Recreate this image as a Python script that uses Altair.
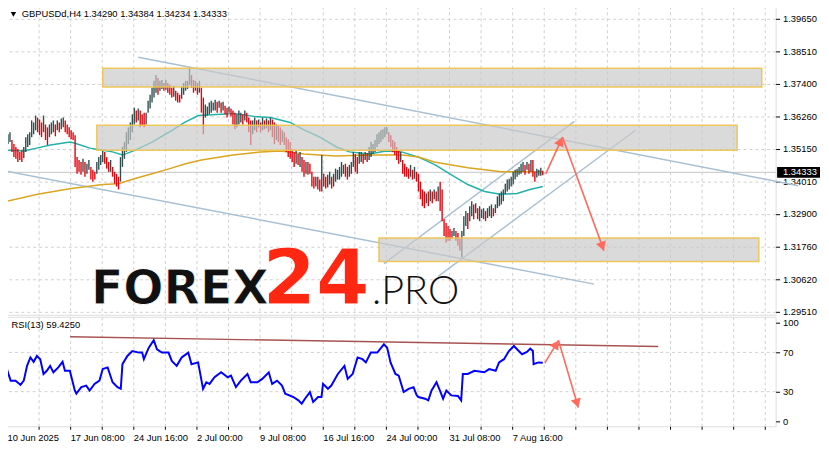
import math
import altair as alt
import pandas as pd

# ---------------- data ----------------
bar_high = [
1.3565,1.3572,1.3545,1.3531,1.3521,1.3514,1.3504,1.3510,1.3521,1.3555,
1.3565,1.3572,1.3613,1.3606,1.3630,1.3623,1.3616,1.3606,1.3630,1.3599,
1.3589,1.3599,1.3606,1.3613,1.3599,1.3613,1.3606,1.3620,1.3623,1.3613,
1.3599,1.3589,1.3579,1.3572,1.3562,1.3486,1.3476,1.3469,1.3480,1.3469,
1.3463,1.3476,1.3452,1.3442,1.3435,1.3469,1.3486,1.3493,1.3510,1.3504,
1.3486,1.3469,1.3476,1.3452,1.3435,1.3428,1.3418,1.3486,1.3521,1.3538,
1.3572,1.3589,1.3606,1.3634,1.3657,1.3647,1.3654,1.3647,1.3634,1.3640,
1.3640,1.3681,1.3702,1.3726,1.3750,1.3770,1.3760,1.3750,1.3753,1.3743,
1.3753,1.3743,1.3736,1.3726,1.3733,1.3716,1.3709,1.3702,1.3729,1.3743,
1.3750,1.3750,1.3794,1.3770,1.3753,1.3750,1.3743,1.3750,1.3726,1.3692,
1.3668,1.3661,1.3675,1.3681,1.3675,1.3685,1.3678,1.3681,1.3675,1.3678,
1.3664,1.3657,1.3661,1.3654,1.3647,1.3640,1.3634,1.3647,1.3640,1.3634,
1.3647,1.3640,1.3623,1.3613,1.3613,1.3623,1.3613,1.3616,1.3606,1.3623,
1.3613,1.3620,1.3613,1.3623,1.3616,1.3606,1.3599,1.3596,1.3589,1.3579,
1.3572,1.3555,1.3548,1.3538,1.3514,1.3504,1.3510,1.3497,1.3504,1.3486,
1.3476,1.3469,1.3469,1.3463,1.3435,1.3418,1.3418,1.3418,1.3408,1.3493,
1.3428,1.3418,1.3425,1.3435,1.3418,1.3428,1.3446,1.3442,1.3452,1.3469,
1.3459,1.3463,1.3452,1.3459,1.3469,1.3504,1.3497,1.3486,1.3504,1.3504,
1.3497,1.3504,1.3500,1.3521,1.3538,1.3531,1.3545,1.3565,1.3572,1.3579,
1.3582,1.3589,1.3589,1.3572,1.3562,1.3545,1.3538,1.3521,1.3510,1.3504,
1.3476,1.3463,1.3452,1.3446,1.3459,1.3442,1.3452,1.3435,1.3428,1.3401,
1.3374,1.3367,1.3360,1.3367,1.3374,1.3367,1.3374,1.3367,1.3384,1.3401,
1.3374,1.3271,1.3258,1.3247,1.3237,1.3230,1.3240,1.3230,1.3223,1.3203,
1.3230,1.3281,1.3299,1.3292,1.3316,1.3333,1.3322,1.3326,1.3309,1.3316,
1.3305,1.3309,1.3299,1.3309,1.3316,1.3322,1.3309,1.3322,1.3350,1.3360,
1.3367,1.3374,1.3394,1.3408,1.3411,1.3418,1.3435,1.3442,1.3446,1.3452,
1.3463,1.3469,1.3459,1.3469,1.3463,1.3476,1.3476,1.3435,1.3446,1.3442,
1.3449,1.34384]

bar_low = [
1.3531,1.3538,1.3504,1.3486,1.3480,1.3469,1.3476,1.3469,1.3483,1.3504,
1.3521,1.3528,1.3555,1.3565,1.3579,1.3572,1.3562,1.3555,1.3572,1.3545,
1.3528,1.3555,1.3565,1.3572,1.3558,1.3579,1.3572,1.3582,1.3589,1.3572,
1.3565,1.3555,1.3548,1.3545,1.3452,1.3428,1.3435,1.3425,1.3435,1.3418,
1.3428,1.3442,1.3408,1.3401,1.3408,1.3428,1.3442,1.3459,1.3469,1.3463,
1.3446,1.3435,1.3435,1.3418,1.3394,1.3384,1.3374,1.3401,1.3452,1.3480,
1.3504,1.3531,1.3545,1.3572,1.3599,1.3606,1.3613,1.3589,1.3596,1.3589,
1.3599,1.3640,1.3654,1.3675,1.3692,1.3709,1.3702,1.3716,1.3722,1.3716,
1.3719,1.3709,1.3702,1.3692,1.3695,1.3681,1.3675,1.3675,1.3688,1.3702,
1.3716,1.3722,1.3736,1.3726,1.3709,1.3716,1.3702,1.3709,1.3640,1.3565,
1.3623,1.3630,1.3634,1.3640,1.3647,1.3647,1.3640,1.3657,1.3640,1.3647,
1.3634,1.3623,1.3640,1.3627,1.3599,1.3582,1.3589,1.3599,1.3606,1.3599,
1.3613,1.3606,1.3572,1.3528,1.3565,1.3579,1.3572,1.3589,1.3572,1.3579,
1.3582,1.3586,1.3572,1.3579,1.3555,1.3531,1.3545,1.3538,1.3528,1.3538,
1.3528,1.3504,1.3486,1.3480,1.3469,1.3452,1.3463,1.3459,1.3452,1.3435,
1.3418,1.3428,1.3425,1.3428,1.3384,1.3377,1.3384,1.3374,1.3367,1.3367,
1.3384,1.3377,1.3381,1.3391,1.3377,1.3384,1.3401,1.3408,1.3408,1.3418,
1.3428,1.3418,1.3408,1.3418,1.3428,1.3452,1.3435,1.3428,1.3463,1.3469,
1.3463,1.3476,1.3469,1.3476,1.3486,1.3497,1.3504,1.3521,1.3531,1.3538,
1.3548,1.3555,1.3565,1.3538,1.3521,1.3504,1.3493,1.3476,1.3463,1.3469,
1.3428,1.3418,1.3418,1.3411,1.3418,1.3408,1.3411,1.3401,1.3367,1.3340,
1.3316,1.3309,1.3326,1.3316,1.3333,1.3326,1.3340,1.3333,1.3333,1.3299,
1.3264,1.3213,1.3189,1.3196,1.3196,1.3203,1.3213,1.3196,1.3179,1.3162,
1.3138,1.3213,1.3247,1.3237,1.3264,1.3281,1.3271,1.3292,1.3271,1.3264,
1.3275,1.3271,1.3264,1.3275,1.3281,1.3275,1.3281,1.3292,1.3309,1.3316,
1.3322,1.3333,1.3357,1.3367,1.3374,1.3384,1.3391,1.3408,1.3418,1.3425,
1.3428,1.3435,1.3425,1.3442,1.3428,1.3435,1.3418,1.3401,1.3415,1.3421,
1.3421,1.34234]

ma_fast_idx = [-0.5,8,14.5,21.5,31.5,34,41.5,48,53,58,64.5,73,81.5,89.5,96.5,108,114.5,124.5,133,143,
               149.5,158,166.5,173,183,191.5,199.5,208,216.5,224.5,233,241.5,249.5,258,264.5,271]
ma_fast_val = [1.3510,1.3507,1.3517,1.3528,1.3538,1.3534,1.3517,1.3510,1.3504,1.3493,
               1.3510,1.3538,1.3572,1.3606,1.3630,1.3634,1.3637,1.3627,1.3623,1.3606,
               1.3582,1.3555,1.3521,1.3504,1.3497,1.3507,1.3504,1.3486,1.3459,1.3425,
               1.3391,1.3367,1.3357,1.3360,1.3374,1.3384]

ma_slow_idx = [-0.5,15,32,48,56,64,73,82,90,98,114,128,138,150,166,183,200,208,216,233,250,266,271]
ma_slow_val = [1.3333,1.3357,1.3377,1.3391,1.3394,1.3411,1.3428,1.3446,1.3463,1.3476,
               1.3493,1.3504,1.3507,1.3497,1.3490,1.3493,1.3493,1.3486,1.3469,1.3449,
               1.3435,1.3435,1.3435]

rsi_idx = [-0.5,0.5,1.35,3.85,6.35,8,9.65,11.35,13,14.65,16.35,18,19.65,21.35,23,25.5,27.65,28.85,31.35,33.85,
           34.65,37.15,39.65,41.35,43.85,46.35,48,50.5,53,55.5,57.15,58,60.5,63,66.35,68,68.85,71.35,73.85,75.5,
           78,81.35,83,85.5,88,91.35,93,96.35,98.85,100.5,102.15,104.65,108,111.35,113,115.5,118,121.35,123,126.35,
           128.85,132.15,133.85,136.35,138.85,140.5,144.65,147.15,148.85,150.5,153,154.65,157.15,158.85,159.65,162.15,
           163.85,167.15,170.5,172.15,174.65,177.15,179.65,181.35,183.85,187.15,190.5,192.15,193.85,196.35,198,200.5,
           203,205.5,207.15,208,211.35,213,214.65,217.15,218.85,220.5,222.15,224.65,228,229.65,230.5,233,236.35,241.35,
           243.85,247.15,248.85,251.35,253.85,256.35,258.85,260.5,263,264.65,266,266.35,268.85,271]
rsi_val = [53.0,46.3,41.2,41.2,36.9,41.2,56.3,64.8,60.4,66.4,63.1,48.0,51.3,56.3,49.7,54.7,60.4,51.3,51.3,31.2,
           27.9,34.6,36.2,31.2,37.9,41.2,53.0,54.7,39.6,34.6,32.9,58.0,66.4,71.4,69.8,69.8,63.1,74.8,82.5,73.1,
           69.8,69.8,61.4,56.3,64.8,69.8,58.0,59.8,32.9,39.6,37.9,44.7,49.7,44.7,46.3,34.6,41.2,48.0,39.6,39.6,
           43.0,49.7,37.9,41.2,36.2,27.9,24.5,21.1,17.8,22.8,29.6,19.5,24.5,24.5,37.9,32.9,36.2,48.0,56.3,43.0,
           48.0,64.8,63.1,59.8,69.8,69.8,78.2,74.8,59.8,48.0,46.3,29.6,32.9,34.6,26.2,24.5,22.8,21.1,31.2,39.6,
           31.2,22.8,31.2,26.2,25.6,21.1,48.0,48.0,51.3,49.7,53.0,51.3,59.8,63.1,71.4,76.5,71.4,68.1,70.4,73.8,
           71.4,58.0,59.8,59.4]

price_ticks = [1.39650, 1.38510, 1.37400, 1.36260, 1.35150, 1.34010, 1.32900, 1.31760, 1.30620, 1.29510]
rsi_ticks = [0, 30, 70, 100]
rsi_levels = [30, 70]
time_labels = ["10 Jun 2025", "17 Jun 08:00", "24 Jun 16:00", "2 Jul 00:00", "9 Jul 08:00",
               "16 Jul 16:00", "24 Jul 00:00", "31 Jul 08:00", "7 Aug 16:00"]

last_price = 1.34333
title_text = "GBPUSDd,H4  1.34290 1.34384 1.34234 1.34333"
rsi_text = "RSI(13) 59.4250"

zone_x0 = [48, 45, 188]
zone_x1 = [382, 369.5, 380.5]
zone_top = [1.3794, 1.3596, 1.3206]
zone_bot = [1.3729, 1.3510, 1.3124]

chan_x0 = [66, -0.5, 190.5, 218]
chan_p0 = [1.3832, 1.3437, 1.3117, 1.3073]
chan_x1 = [400.5, 297, 287, 318]
chan_p1 = [1.3387, 1.3046, 1.3610, 1.3579]

arrow_main = [(272.5, 1.3428, 281, 1.3555), (281, 1.3555, 302, 1.3162)]
arrow_rsi = [(272, 59.1, 279, 82.2), (279, 82.2, 289, 13.8)]
rsi_trend = [(31.5, 85.9), (329.5, 76.0)]

# ---------------- layout ----------------
W = 779
MAIN_H = 313
RSI_H = 111
X_DOM = [-0.5, 389.0]
P_DOM = [1.29397, 1.40094]
R_DOM = [-5.3, 106.3]
PX_PER_BAR = W / (X_DOM[1] - X_DOM[0])
px_per_price = MAIN_H / (P_DOM[1] - P_DOM[0])
px_per_rsi = RSI_H / (R_DOM[1] - R_DOM[0])

FONT = "Liberation Sans"
FS = 9.5
GRID = "#cfcfcf"
UP = "#2f4f4f"
DOWN = "#e8000b"
ARROW = "#ff6a5c"
CHAN = "#a9c0d2"

n = len(bar_high)
dirs = []
for k in range(n):
    mid = (bar_high[k] + bar_low[k]) / 2
    prev = (bar_high[k - 1] + bar_low[k - 1]) / 2 if k else mid
    dirs.append("down" if mid < prev else "up")
bars = pd.DataFrame({"i": list(range(n)), "high": bar_high, "low": bar_low, "dir": dirs})
bars_up = bars[bars["dir"] == "up"]
bars_down = bars[bars["dir"] == "down"]

fast_df = pd.DataFrame({"i": ma_fast_idx, "v": ma_fast_val})
slow_df = pd.DataFrame({"i": ma_slow_idx, "v": ma_slow_val})
rsi_df = pd.DataFrame({"i": rsi_idx, "v": rsi_val})
zones = pd.DataFrame({"x0": zone_x0, "x1": zone_x1, "top": zone_top, "bot": zone_bot})

chan_rows = []
for k in range(len(chan_x0)):
    chan_rows.append({"id": k, "i": chan_x0[k], "v": chan_p0[k]})
    chan_rows.append({"id": k, "i": chan_x1[k], "v": chan_p1[k]})
chan_df = pd.DataFrame(chan_rows)


def seg_df(segs):
    rows = []
    for k, (x0, v0, x1, v1) in enumerate(segs):
        rows.append({"id": k, "i": x0, "v": v0})
        rows.append({"id": k, "i": x1, "v": v1})
    return pd.DataFrame(rows)


def head_df(segs, ppu):
    rows = []
    for (x0, v0, x1, v1) in segs:
        dx = (x1 - x0) * PX_PER_BAR
        dy = -(v1 - v0) * ppu
        L = math.hypot(dx, dy)
        ang = math.degrees(math.atan2(dx, -dy)) % 360
        back = 4.5
        rows.append({"i": x1 - dx / L * back / PX_PER_BAR,
                     "v": v1 + dy / L * back / ppu, "ang": ang})
    return pd.DataFrame(rows)


xscale = alt.Scale(domain=X_DOM, nice=False, zero=False)
pscale = alt.Scale(domain=P_DOM, nice=False, zero=False)
rscale = alt.Scale(domain=R_DOM, nice=False, zero=False)

grid_vals = [16 * k - 0.5 for k in range(25)]
lab_arr = []
for t in time_labels:
    lab_arr += [t, ""]
lab_arr += [""] * (30 - len(lab_arr))
lab_expr = "[" + ",".join("'%s'" % s for s in lab_arr) + "][round((datum.value+0.5)/16)]"

x_axis_main = alt.Axis(values=grid_vals, grid=True, gridDash=[3, 3], gridColor=GRID,
                       labels=False, ticks=False, domain=False, title=None)
y_axis_main = alt.Axis(orient="right", values=price_ticks, format=".5f", grid=True,
                       gridDash=[3, 3], gridColor=GRID, domain=False, tickSize=4,
                       tickColor="black", labelFont=FONT, labelFontSize=FS, labelColor="black",
                       labelPadding=3, labelOverlap=False, title=None)
x_axis_rsi = alt.Axis(values=grid_vals, grid=True, gridDash=[3, 3], gridColor=GRID,
                      labelExpr=lab_expr, labelAlign="left", labelFlush=False, labelOverlap=False,
                      labelFont=FONT, labelFontSize=FS, labelColor="black", labelPadding=3,
                      tickSize=3, tickColor="black", domain=False, title=None)
y_axis_rsi = alt.Axis(orient="right", values=rsi_ticks, grid=False, domain=False, tickSize=4,
                      tickColor="black", labelFont=FONT, labelFontSize=FS, labelColor="black",
                      labelPadding=3, labelOverlap=False, title=None)


def X(f):
    return alt.X(f, type="quantitative", scale=xscale, axis=x_axis_main)


def Y(f):
    return alt.Y(f, type="quantitative", scale=pscale, axis=y_axis_main)


def XR(f):
    return alt.X(f, type="quantitative", scale=xscale, axis=x_axis_rsi)


def YR(f):
    return alt.Y(f, type="quantitative", scale=rscale, axis=y_axis_rsi)


# ---------------- main panel ----------------
up_layer = alt.Chart(bars_up).mark_rule(strokeWidth=1.4, color=UP).encode(x=X("i"), y=Y("high"), y2="low")
down_layer = alt.Chart(bars_down).mark_rule(strokeWidth=1.4, color=DOWN).encode(x=X("i"), y=Y("high"), y2="low")
bid_layer = alt.Chart(pd.DataFrame({"v": [last_price]})).mark_rule(color="#c4c4c4", strokeWidth=1).encode(y=Y("v"))
chan_layer = alt.Chart(chan_df).mark_line(color=CHAN, strokeWidth=1.5).encode(
    x=X("i"), y=Y("v"), detail="id:N")
fast_layer = alt.Chart(fast_df).mark_line(strokeWidth=1.5, color="#20b2aa").encode(x=X("i"), y=Y("v"))
slow_layer = alt.Chart(slow_df).mark_line(strokeWidth=1.5, color="#daa520").encode(x=X("i"), y=Y("v"))
zone_layer = alt.Chart(zones).mark_rect(fill="#c8c8c8", fillOpacity=0.68, stroke="#f0c24a",
                                        strokeWidth=1.5, strokeOpacity=0.9).encode(
    x=X("x0"), x2="x1", y=Y("top"), y2="bot")
arrow_layer = alt.Chart(seg_df(arrow_main)).mark_line(color=ARROW, strokeWidth=1.6).encode(
    x=X("i"), y=Y("v"), detail="id:N")
head_layer = alt.Chart(head_df(arrow_main, px_per_price)).mark_point(
    shape="triangle-up", filled=True, color=ARROW, opacity=1, size=110).encode(
    x=X("i"), y=Y("v"), angle=alt.Angle("ang:Q", scale=None))

half = 5.5 / px_per_price
box_df = pd.DataFrame({"lo": [last_price - half], "hi": [last_price + half], "t": ["%.5f" % last_price],
                       "v": [last_price]})
box_layer = alt.Chart(box_df).mark_rect(color="black").encode(
    x=alt.value(780.5), x2=alt.value(824), y=Y("lo"), y2="hi")
box_text = alt.Chart(box_df).mark_text(align="left", baseline="middle", font=FONT, fontSize=FS,
                                       color="white").encode(x=alt.value(786.5), y=Y("v"), text="t:N")

title_df = pd.DataFrame({"t": [title_text]})
title_layer = alt.Chart(title_df).mark_text(align="left", baseline="middle", font=FONT, fontSize=FS,
                                            color="black").encode(
    x=alt.value(15), y=alt.value(8.5), text="t:N")
tri_layer = alt.Chart(title_df).mark_point(shape="triangle-down", filled=True, color="black",
                                           opacity=1, size=30).encode(x=alt.value(6.5), y=alt.value(8.5))

wm1 = alt.Chart(pd.DataFrame({"t": ["FOREX"]})).mark_text(
    align="left", baseline="alphabetic", font="DejaVu Sans", fontWeight="bold", fontSize=48,
    color="#111111", stroke="white", strokeWidth=0.8).encode(
    x=alt.value(85), y=alt.value(302.5), text="t:N")
wm2 = alt.Chart(pd.DataFrame({"t": ["24"]})).mark_text(
    align="left", baseline="alphabetic", font="DejaVu Sans", fontWeight="bold", fontSize=78,
    color="#fe2712", stroke="white", strokeWidth=0.8).encode(
    x=alt.value(259), y=alt.value(302.5), text="t:N")
wm3 = alt.Chart(pd.DataFrame({"t": [".PRO"]})).mark_text(
    align="left", baseline="alphabetic", font="Lato", fontWeight=300, fontSize=40, color="#111111").encode(
    x=alt.value(370), y=alt.value(302.5), text="t:N")

main = alt.layer(
    bid_layer, chan_layer, fast_layer, slow_layer, up_layer, down_layer, zone_layer, arrow_layer, head_layer,
    box_layer, box_text, title_layer, tri_layer, wm1, wm2, wm3,
).properties(width=W, height=MAIN_H)

# ---------------- RSI panel ----------------
lvl_layer = alt.Chart(pd.DataFrame({"v": rsi_levels})).mark_rule(
    color=GRID, strokeDash=[3, 3], strokeWidth=1).encode(y=YR("v"))
trend_df = pd.DataFrame({"i": [p[0] for p in rsi_trend], "v": [p[1] for p in rsi_trend]})
trend_layer = alt.Chart(trend_df).mark_line(color="#9e3f3f", strokeWidth=1.5, opacity=0.9).encode(
    x=XR("i"), y=YR("v"))
rsi_layer = alt.Chart(rsi_df).mark_line(color="#0000ff", strokeWidth=2).encode(x=XR("i"), y=YR("v"))
rarrow_layer = alt.Chart(seg_df(arrow_rsi)).mark_line(color=ARROW, strokeWidth=1.6).encode(
    x=XR("i"), y=YR("v"), detail="id:N")
rhead_layer = alt.Chart(head_df(arrow_rsi, px_per_rsi)).mark_point(
    shape="triangle-up", filled=True, color=ARROW, opacity=1, size=110).encode(
    x=XR("i"), y=YR("v"), angle=alt.Angle("ang:Q", scale=None))
rlabel = alt.Chart(pd.DataFrame({"t": [rsi_text]})).mark_text(
    align="left", baseline="middle", font=FONT, fontSize=FS, color="black").encode(
    x=alt.value(4.5), y=alt.value(8), text="t:N")

rsi = alt.layer(lvl_layer, trend_layer, rsi_layer, rarrow_layer, rhead_layer, rlabel).properties(
    width=W, height=RSI_H)

chart = alt.vconcat(main, rsi, spacing=2, bounds="flush").properties(
    padding={"left": -6, "top": -6, "right": 0, "bottom": 0}
).configure_view(stroke="black", strokeWidth=1).configure(background="white")

chart.save("out.html", embed_options={"renderer": "svg", "actions": False})
